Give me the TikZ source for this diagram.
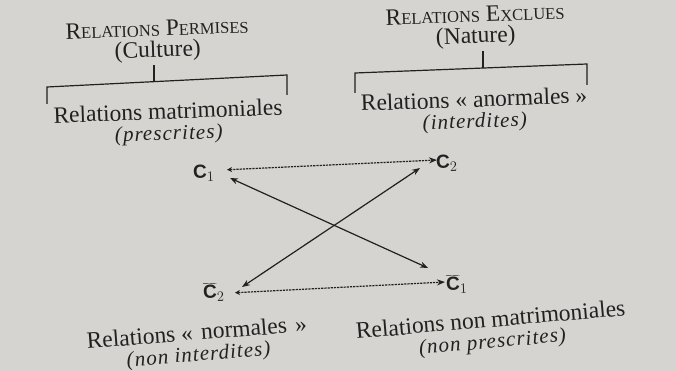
\documentclass[tikz,border=0pt]{standalone}
\usepackage{fontspec}
\setmainfont{Liberation Serif}
\newfontfamily\cfont{Liberation Sans}
\usetikzlibrary{arrows.meta,positioning}
\definecolor{paper}{HTML}{D6D4D1}
\definecolor{ink}{HTML}{222020}
\newcommand{\petit}{\fontsize{16.5}{18}\selectfont}
\newcommand{\expl}[1]{{\fontsize{21}{20}\selectfont\itshape\addfontfeatures{LetterSpace=5}#1}}
\newcommand{\lettre}[1]{{\cfont\bfseries C}$_{#1}$}
\newcommand{\barre}[1]{$\overline{\hbox{\cfont\bfseries C}}_{#1}$}

\begin{document}
\begin{tikzpicture}[x=1pt,y=-1pt,text=ink,>=Stealth,
  every node/.style={rotate=2,anchor=base,inner sep=0pt},
  texte/.style={font=\fontsize{23.5}{21}\selectfont,align=center},
  pole/.style={font=\fontsize{19}{21}\selectfont},
  accolade/.style={draw=ink,line width=1.2pt},
  lien/.style={draw=ink,line width=1.2pt,{Stealth[length=8pt,width=6pt]}-{Stealth[length=8pt,width=6pt]}},
  pointille/.style={draw=ink,line width=1.2pt,dash pattern=on 2.2pt off 1pt,
    {Stealth[length=5pt,width=5pt,sep=5pt]}-{Stealth[length=8pt,width=6pt]}}]
\fill[paper] (0,0) rectangle (676,371);
\useasboundingbox (0,0) rectangle (676,371);
% culture, a gauche
\node[texte] (permises) at (158,57) {R{\petit ELATIONS} P{\petit ERMISES}\\(Culture)};
\node[texte] (matrimon) at (169,140) {Relations matrimoniales\\\expl{(prescrites)}};
\coordinate (lgauche) at (47,87);
\coordinate (ldroite) at (287,75);
\coordinate (lmilieu) at (154,81.5);
\draw[accolade] (permises.south -| lmilieu) ++(0,3) -- (lmilieu);
\draw[accolade] (lgauche |- 0,104) -- (lgauche) -- (ldroite) -- (ldroite |- 0,95);
% nature, a droite
\node[texte] (exclues) at (476,43) {R{\petit ELATIONS} E{\petit XCLUES}\\(Nature)};
\node[texte] (anormales) at (475,128) {Relations «~anormales~»\\\expl{(interdites)}};
\coordinate (rgauche) at (355,73);
\coordinate (rdroite) at (587,64);
\coordinate (rmilieu) at (483,68);
\draw[accolade] (exclues.south -| rmilieu) ++(0,3) -- (rmilieu);
\draw[accolade] (rgauche |- 0,93) -- (rgauche) -- (rdroite) -- (rdroite |- 0,85);
% les quatre termes
\node[pole] (c1) at (204,178) {\lettre{1}};
\node[pole] (c2) at (447,168) {\lettre{2}};
\node[pole] (nc2) at (214,298) {\barre{2}};
\node[pole] (nc1) at (457,290) {\barre{1}};
\draw[pointille] ([shift={(18pt,8pt)}]c1.base) -- ([shift={(-10pt,8pt)}]c2.base);
\draw[pointille] ([shift={(16pt,5pt)}]nc2.base) -- ([shift={(-12pt,8pt)}]nc1.base);
\draw[lien] ([shift={(26pt,0pt)}]c1.base) -- ([shift={(-29pt,22pt)}]nc1.base);
\draw[lien] ([shift={(28pt,11pt)}]nc2.base) -- ([shift={(-27pt,0pt)}]c2.base);
% en bas
\node[texte,rotate=2.5] (normales) at (199,361) {Relations «\hspace{0.35em}normales\hspace{0.35em}»\\\expl{(non interdites)}};
\node[texte,rotate=3] (nonmatrimon) at (493,348) {Relations non matrimoniales\\\expl{(non prescrites)}};
\end{tikzpicture}
\end{document}
